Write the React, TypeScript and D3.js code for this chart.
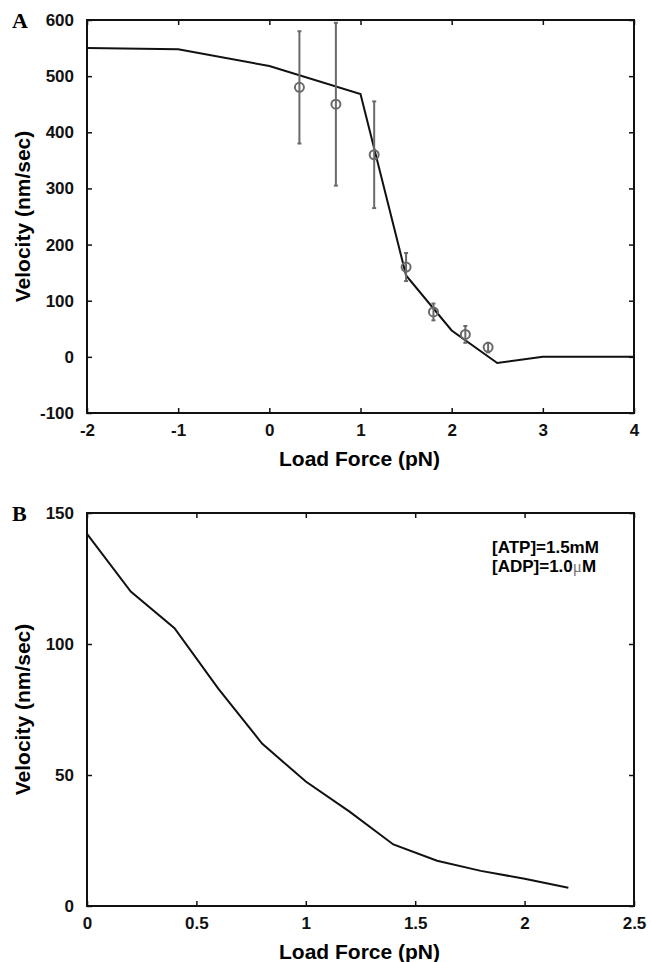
import React, { useEffect, useRef } from "react";
import { select, scaleLinear, axisBottom, axisLeft, axisTop, axisRight, line } from "d3";

// panel A: model curve + measured points
const forceA = [-2, -1, 0, 1, 1.5, 2, 2.5, 3, 4];
const velA = [550, 548, 518, 468, 145, 47, -11, 0, 0];
const obsForce = [0.33, 0.73, 1.15, 1.5, 1.8, 2.15, 2.4];
const obsVel = [480, 450, 360, 160, 80, 40, 17];
const obsLow = [380, 305, 265, 135, 65, 25, 8];
const obsHigh = [580, 595, 455, 185, 95, 55, 25];
const ticksXA = [-2, -1, 0, 1, 2, 3, 4];
const ticksYA = [-100, 0, 100, 200, 300, 400, 500, 600];

// panel B
const forceB = [0, 0.2, 0.4, 0.6, 0.8, 1.0, 1.2, 1.4, 1.6, 1.8, 2.0, 2.2];
const velB = [142, 120, 106, 83, 62, 47.5, 36, 23.5, 17.3, 13.4, 10.4, 7];
const ticksXB = [0, 0.5, 1, 1.5, 2, 2.5];
const ticksYB = [0, 50, 100, 150];

const FONT = "'Liberation Sans', Arial, Helvetica, sans-serif";

function Panel({ top, xDomain, yDomain, xTicks, yTicks, xs, ys, letter, obs, note }) {
    const gRef = useRef();
    const left = 87, right = 634, h = top.h;

    useEffect(() => {
        const g = select(gRef.current);
        const x = scaleLinear().domain(xDomain).range([left, right]);
        const y = scaleLinear().domain(yDomain).range([top.y + h, top.y]);
        g.selectAll("*").remove();

        const fmt = d => String(d);
        const styleAxis = (sel, labels) => {
            sel.select(".domain").remove();
            sel.selectAll("line").attr("stroke", "#111").attr("stroke-width", 1.5);
            sel.selectAll("text")
                .attr("font-family", FONT).attr("font-weight", "bold")
                .attr("font-size", 17).attr("fill", "#111");
            if (!labels) sel.selectAll("text").remove();
        };

        g.append("g").attr("transform", `translate(0,${top.y + h})`)
            .call(axisBottom(x).tickValues(xTicks).tickFormat(fmt).tickSizeInner(-5).tickPadding(11))
            .call(s => styleAxis(s, true));
        g.append("g").attr("transform", `translate(0,${top.y})`)
            .call(axisTop(x).tickValues(xTicks).tickSizeInner(-5))
            .call(s => styleAxis(s, false));
        g.append("g").attr("transform", `translate(${left},0)`)
            .call(axisLeft(y).tickValues(yTicks).tickFormat(fmt).tickSizeInner(-5).tickPadding(13))
            .call(s => styleAxis(s, true));
        g.append("g").attr("transform", `translate(${right},0)`)
            .call(axisRight(y).tickValues(yTicks).tickSizeInner(-5))
            .call(s => styleAxis(s, false));

        g.append("rect").attr("x", left).attr("y", top.y)
            .attr("width", right - left).attr("height", h)
            .attr("fill", "none").attr("stroke", "#111").attr("stroke-width", 2);

        const pts = xs.map((v, i) => [v, ys[i]]);
        g.append("path").datum(pts)
            .attr("d", line().x(d => x(d[0])).y(d => y(d[1])))
            .attr("fill", "none").attr("stroke", "#111").attr("stroke-width", 2);

        if (obs) {
            const og = g.append("g").attr("stroke", "#6a6a6a").attr("fill", "none").attr("stroke-width", 2);
            obs.f.forEach((f, i) => {
                const cx = x(f);
                og.append("line").attr("x1", cx).attr("x2", cx).attr("y1", y(obs.lo[i])).attr("y2", y(obs.hi[i]));
                og.append("line").attr("x1", cx - 2).attr("x2", cx + 2).attr("y1", y(obs.lo[i])).attr("y2", y(obs.lo[i]));
                og.append("line").attr("x1", cx - 2).attr("x2", cx + 2).attr("y1", y(obs.hi[i])).attr("y2", y(obs.hi[i]));
                og.append("circle").attr("cx", cx).attr("cy", y(obs.v[i])).attr("r", 4.5);
            });
        }

        g.append("text").attr("x", 12).attr("y", top.y + 8)
            .attr("font-family", "'Liberation Serif', 'Times New Roman', serif").attr("font-weight", "bold")
            .attr("font-size", 22).text(letter);

        g.append("text")
            .attr("transform", `translate(30,${top.y + h / 2}) rotate(-90)`)
            .attr("text-anchor", "middle")
            .attr("font-family", FONT).attr("font-weight", "bold").attr("font-size", 21)
            .text("Velocity (nm/sec)");
        g.append("text")
            .attr("x", (left + right) / 2 - 1).attr("y", top.y + h + 53)
            .attr("text-anchor", "middle")
            .attr("font-family", FONT).attr("font-weight", "bold").attr("font-size", 21)
            .text("Load Force (pN)");

        if (note) {
            const t = g.append("text").attr("font-family", FONT).attr("font-weight", "bold").attr("font-size", 17);
            t.append("tspan").attr("x", 492).attr("y", top.y + 40).text("[ATP]=1.5mM");
            t.append("tspan").attr("x", 492).attr("y", top.y + 59).text("[ADP]=1.0");
            t.append("tspan").attr("font-family", "'Liberation Serif', serif").attr("font-weight", "normal")
                .attr("fill", "#777").text("μ");
            t.append("tspan").text("M");
        }
    }, []);

    return <g ref={gRef} />;
}

export default function App() {
    return (
        <svg width={651} height={962} style={{ position: "absolute", left: 0, top: 0, background: "#fff" }}>
            <Panel top={{ y: 20, h: 393 }} xDomain={[-2, 4]} yDomain={[-100, 600]}
                xTicks={ticksXA} yTicks={ticksYA} xs={forceA} ys={velA} letter="A"
                obs={{ f: obsForce, v: obsVel, lo: obsLow, hi: obsHigh }} />
            <Panel top={{ y: 513, h: 393 }} xDomain={[0, 2.5]} yDomain={[0, 150]}
                xTicks={ticksXB} yTicks={ticksYB} xs={forceB} ys={velB} letter="B" note />
        </svg>
    );
}
